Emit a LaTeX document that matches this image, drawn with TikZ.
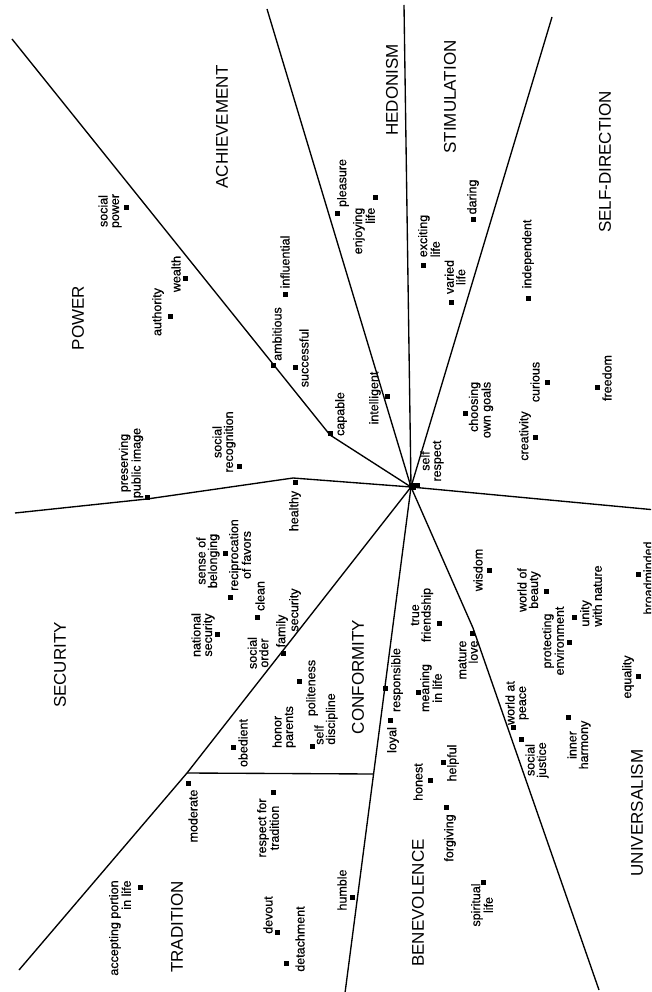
\documentclass[tikz,border=0pt]{standalone}
\usepackage{fontspec}
\setmainfont{Liberation Sans}
\newfontfamily\lblfont[FakeBold=0.6]{Liberation Sans}
\begin{document}
\begin{tikzpicture}[x=1pt,y=-1pt,
  bnd/.style={line width=1.35pt, line join=round},
  cat/.style={rotate=90, font=\fontsize{17}{19}\selectfont, inner sep=0pt},
  lbl/.style={rotate=90, font=\lblfont\fontsize{12.5}{11.5}\selectfont, inner sep=0pt, align=center},
  lblL/.style={lbl, align=left},
  lblR/.style={lbl, align=right},
  mk/.style={fill=black, rectangle, minimum size=5pt, inner sep=0pt}
]
\useasboundingbox (0,0) rectangle (651,992);
\clip (0,0) rectangle (651,992);
\fill[white] (0,0) rectangle (651,992);
% boundaries
\coordinate (O) at (411,487);
\coordinate (a1) at (12,39); \coordinate (a2) at (330,435);
\coordinate (b1) at (267,9);
\coordinate (c1) at (404,5);
\coordinate (d1) at (552,17);
\coordinate (e1) at (656,510);
\coordinate (f1) at (473,628); \coordinate (f2) at (599,990);
\coordinate (g1) at (345,993);
\coordinate (h1) at (187,773); \coordinate (h2) at (19,970);
\coordinate (h3) at (373,774);
\coordinate (k1) at (293,478); \coordinate (k2) at (147,499); \coordinate (k3) at (15,513);
\draw[bnd] (a1) -- (a2) -- (O);
\draw[bnd] (b1) -- (O);
\draw[bnd] (c1) -- (O);
\draw[bnd] (d1) -- (O);
\draw[bnd] (O) -- (e1);
\draw[bnd] (O) -- (f1) -- (f2);
\draw[bnd] (O) -- (g1);
\draw[bnd] (O) -- (h1) -- (h2);
\draw[bnd] (h1) -- (h3);
\draw[bnd] (O) -- (k1) -- (k2) -- (k3);
\node[mk, minimum size=7pt] (ctr) at (412,486) {};
% categories
\node[cat] (cPow) at (78,318) {POWER};
\node[cat] (cAch) at (222,127) {ACHIEVEMENT};
\node[cat] (cHed) at (392,90) {HEDONISM};
\node[cat] (cSti) at (450,97) {STIMULATION};
\node[cat] (cSel) at (605,162) {SELF-DIRECTION};
\node[cat] (cSec) at (60,665) {SECURITY};
\node[cat] (cCon) at (358,677) {CONFORMITY};
\node[cat] (cTra) at (177,927) {TRADITION};
\node[cat] (cBen) at (418,903) {BENEVOLENCE};
\node[cat] (cUni) at (637,813) {UNIVERSALISM};
% markers
\node[mk] (m1) at (126,208) {};
\node[mk] (m2) at (185,278) {};
\node[mk] (m3) at (170,316) {};
\node[mk] (m4) at (147,497) {};
\node[mk] (m5) at (239,466) {};
\node[mk] (m6) at (273,365) {};
\node[mk] (m7) at (285,294) {};
\node[mk] (m8) at (295,367) {};
\node[mk] (m9) at (330,433) {};
\node[mk] (m10) at (387,396) {};
\node[mk] (m11) at (337,214) {};
\node[mk] (m12) at (375,198) {};
\node[mk] (m13) at (423,265) {};
\node[mk] (m14) at (451,302) {};
\node[mk] (m15) at (473,220) {};
\node[mk] (m16) at (528,298) {};
\node[mk] (m17) at (547,382) {};
\node[mk] (m18) at (597,387) {};
\node[mk] (m19) at (465,413) {};
\node[mk] (m20) at (535,437) {};
\node[mk] (m21) at (417,485) {};
\node[mk] (m22) at (295,482) {};
\node[mk] (m23) at (225,553) {};
\node[mk] (m24) at (230,597) {};
\node[mk] (m25) at (257,617) {};
\node[mk] (m26) at (217,634) {};
\node[mk] (m27) at (283,653) {};
\node[mk] (m28) at (233,747) {};
\node[mk] (m29) at (299,681) {};
\node[mk] (m30) at (312,746) {};
\node[mk] (m31) at (390,720) {};
\node[mk] (m32) at (385,688) {};
\node[mk] (m33) at (439,623) {};
\node[mk] (m34) at (418,692) {};
\node[mk] (m35) at (472,633) {};
\node[mk] (m36) at (489,570) {};
\node[mk] (m37) at (430,780) {};
\node[mk] (m38) at (443,762) {};
\node[mk] (m39) at (446,807) {};
\node[mk] (m40) at (483,882) {};
\node[mk] (m41) at (546,591) {};
\node[mk] (m42) at (569,642) {};
\node[mk] (m43) at (574,617) {};
\node[mk] (m44) at (638,574) {};
\node[mk] (m45) at (638,676) {};
\node[mk] (m46) at (513,727) {};
\node[mk] (m47) at (521,739) {};
\node[mk] (m48) at (568,717) {};
\node[mk] (m49) at (188,783) {};
\node[mk] (m50) at (273,792) {};
\node[mk] (m51) at (140,887) {};
\node[mk] (m52) at (277,932) {};
\node[mk] (m53) at (286,963) {};
\node[mk] (m54) at (352,897) {};
% labels
\node[lbl] (t1) at (110,211) {social\\power};
\node[lbl] (t2) at (176,274) {wealth};
\node[lbl] (t3) at (158,312) {authority};
\node[lbl] (t4) at (131,463) {preserving\\public image};
\node[lbl] (t5) at (224,442) {social\\recognition};
\node[lbl] (t6) at (277,334) {ambitious};
\node[lbl] (t7) at (285,262) {influential};
\node[lbl] (t8) at (304,358) {successful};
\node[lbl] (t9) at (341,414) {capable};
\node[lbl] (t10) at (375,398) {intelligent};
\node[lbl] (t11) at (343,183) {pleasure};
\node[lblR] (t12) at (364,231) {enjoying\\life};
\node[lblL] (t13) at (429,236) {exciting\\life};
\node[lbl] (t14) at (455,277) {varied\\life};
\node[lbl] (t15) at (473,197) {daring};
\node[lbl] (t16) at (528,254) {independent};
\node[lbl] (t17) at (535,382) {curious};
\node[lbl] (t18) at (607,378) {freedom};
\node[lblR] (t19) at (481,410) {choosing\\own goals};
\node[lbl] (t20) at (525,436) {creativity};
\node[lbl] (t21) at (432,461) {self\\respect};
\node[lbl] (t22) at (295,511) {healthy};
\node[lbl] (t23) at (208,561) {sense of\\belonging};
\node[lbl] (t24) at (240,555) {reciprocation\\of favors};
\node[lbl] (t25) at (260,596) {clean};
\node[lbl] (t26) at (203,635) {national\\security};
\node[lbl] (t27) at (258,653) {social\\order};
\node[lbl] (t28a) at (282,631) {family};
\node[lbl] (t28b) at (295,610) {security};
\node[lbl] (t29) at (243,743) {obedient};
\node[lbl] (t30) at (312,688) {politeness};
\node[lblL] (t31) at (284,727) {honor\\parents};
\node[lblL] (t32) at (326,719) {self\\discipline};
\node[lbl] (t33) at (393,740) {loyal};
\node[lbl] (t34) at (397,680) {responsible};
\node[lbl] (t35) at (422,615) {true\\friendship};
\node[lbl] (t36) at (431,688) {meaning\\in life};
\node[lblR] (t37) at (468,660) {mature\\love};
\node[lbl] (t38) at (478,570) {wisdom};
\node[lbl] (t39) at (418,782) {honest};
\node[lbl] (t40) at (453,763) {helpful};
\node[lbl] (t41) at (450,838) {forgiving};
\node[lbl] (t42) at (482,905) {spiritual\\life};
\node[lbl] (t43) at (529,590) {world of\\beauty};
\node[lbl] (t44) at (553,641) {protecting\\environment};
\node[lblL] (t45) at (591,596) {unity\\with nature};
\node[lbl] (t46) at (648,578) {broadminded};
\node[lbl] (t47) at (628,677) {equality};
\node[lbl] (t48) at (517,703) {world at\\peace};
\node[lbl] (t49) at (537,760) {social\\justice};
\node[lbl] (t50) at (579,745) {inner\\harmony};
\node[lbl] (t51) at (193,816) {moderate};
\node[lbl] (t52) at (268,828) {respect for\\tradition};
\node[lblR] (t53) at (120,928) {accepting portion\\in life};
\node[lbl] (t54) at (268,915) {devout};
\node[lbl] (t55) at (300,939) {detachment};
\node[lbl] (t56) at (342,890) {humble};
\end{tikzpicture}
\end{document}
